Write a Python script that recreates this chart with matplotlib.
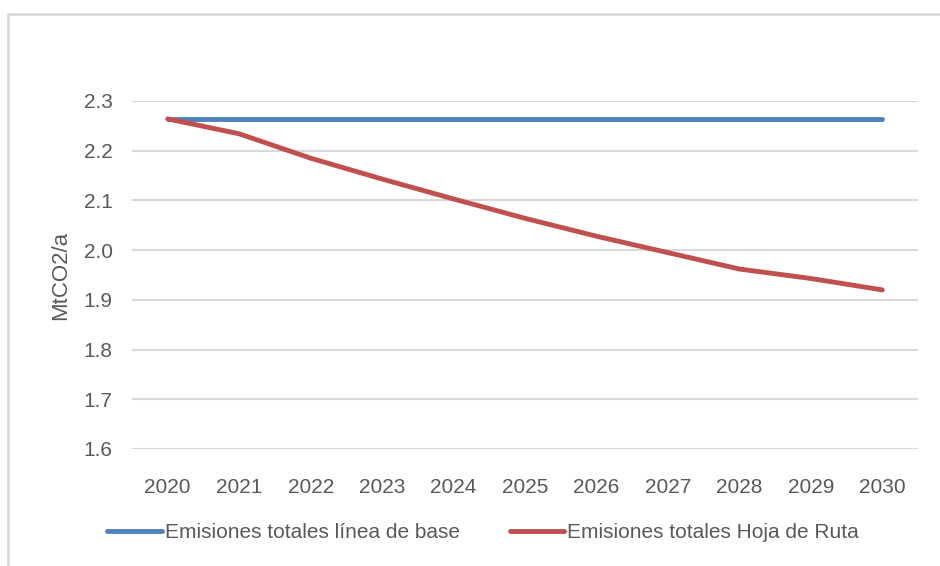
import matplotlib.pyplot as plt
from matplotlib.patches import Rectangle

# data
years = ['2020', '2021', '2022', '2023', '2024', '2025', '2026', '2027', '2028', '2029', '2030']
base = [2.264] * 11
hoja_ruta = [2.264, 2.234, 2.185, 2.143, 2.103, 2.064, 2.028, 1.995, 1.962, 1.943, 1.920]
yticks = [1.6, 1.7, 1.8, 1.9, 2.0, 2.1, 2.2, 2.3]

txt = '#595959'
plt.rcParams['font.family'] = ['Liberation Sans', 'DejaVu Sans']

fig = plt.figure(figsize=(9.4, 5.66), dpi=100)
ax = fig.add_axes([132/940, 1 - 449/566, (918-132)/940, (449-101)/566])

x = range(len(years))
ax.plot(x, base, color='#4f81bd', lw=3.5, solid_capstyle='round', label='Emisiones totales línea de base')
ax.plot(x, hoja_ruta, color='#c0504d', lw=3.5, solid_capstyle='round', label='Emisiones totales Hoja de Ruta')

ax.set_xlim(-0.5, 10.5)
ax.set_ylim(1.6, 2.3)
ax.set_xticks(list(x))
ax.set_xticklabels(years)
ax.set_yticks(yticks)
ax.set_yticklabels(['%.1f' % v for v in yticks])
ax.tick_params(length=0, labelsize=15, labelcolor=txt)
ax.tick_params(axis='y', pad=14)
ax.tick_params(axis='x', pad=21)
ax.grid(axis='y', color='#d9d9d9', lw=1.5)
ax.set_axisbelow(True)
for s in ax.spines.values():
    s.set_visible(False)
ax.set_ylabel('MtCO2/a', fontsize=16, color=txt, labelpad=9)

fig.legend(loc='center', bbox_to_anchor=(483/940, 1 - 533/566), ncol=2, frameon=False,
           fontsize=15, labelcolor=txt, handlelength=2.6, handletextpad=0.15, columnspacing=2.4)

# chart frame (cut off at right and bottom)
fig.add_artist(Rectangle((8/940, -0.1), 1.1, 1 - 14/566 + 0.1, transform=fig.transFigure,
                         fill=False, edgecolor='#d9d9d9', lw=2))

fig.savefig('out.png', dpi=100, facecolor='white')
